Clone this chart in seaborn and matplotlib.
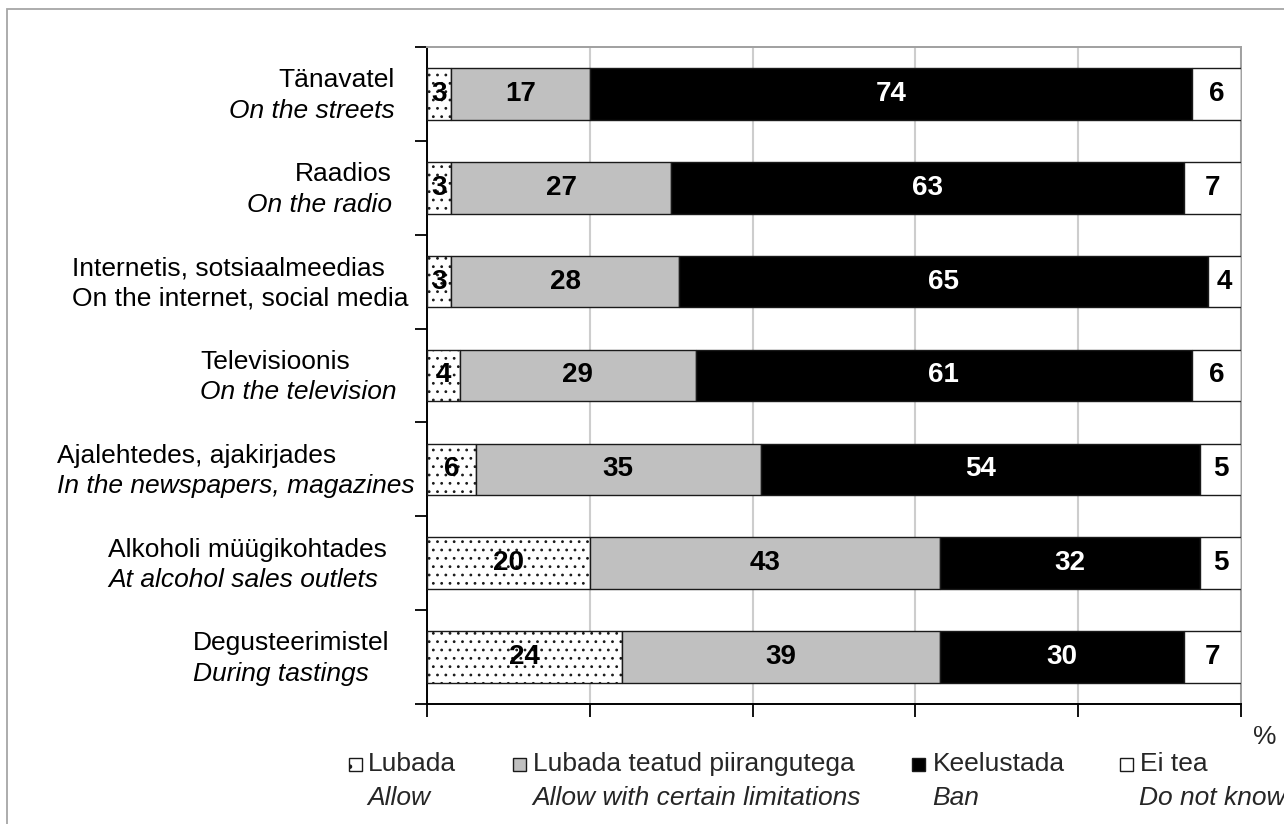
import numpy as np
import pandas as pd
import matplotlib
matplotlib.use("Agg")
import matplotlib.pyplot as plt
import matplotlib.transforms as mtransforms
from matplotlib.patches import Rectangle
import seaborn as sns

# Survey: should alcohol advertising be allowed in these places? (%)
places_et = ["Tänavatel", "Raadios", "Internetis, sotsiaalmeedias", "Televisioonis",
             "Ajalehtedes, ajakirjades", "Alkoholi müügikohtades", "Degusteerimistel"]
places_en = ["On the streets", "On the radio", "On the internet, social media",
             "On the television", "In the newspapers, magazines",
             "At alcohol sales outlets", "During tastings"]

answers_et = ["Lubada", "Lubada teatud piirangutega", "Keelustada", "Ei tea"]
answers_en = ["Allow", "Allow with certain limitations", "Ban", "Do not know"]

allow = [3, 3, 3, 4, 6, 20, 24]
allow_limited = [17, 27, 28, 29, 35, 43, 39]
ban = [74, 63, 65, 61, 54, 32, 30]
dont_know = [6, 7, 4, 6, 5, 5, 7]

series = [allow, allow_limited, ban, dont_know]

# styling
fills = ["white", "#c0c0c0", "black", "white"]
hatches = ["..", None, None, None]
value_colors = ["black", "black", "white", "black"]
en_italic = [True, True, False, True, True, True, True]
label_x_px = [395, 392, 72, 200, 57, 108, 193]
label_ha = ["right", "right", "left", "left", "left", "left", "left"]

W, H = 1284, 824
FS = 19

sns.set_theme(style="white")
plt.rcParams["font.family"] = ["Liberation Sans", "DejaVu Sans"]
plt.rcParams["hatch.linewidth"] = 0.8

fig = plt.figure(figsize=(W / 100, H / 100), dpi=100)
fig.patch.set_facecolor("white")
ax = fig.add_axes([427 / W, 1 - 704 / H, (1241 - 427) / W, (704 - 47) / H])

left = np.zeros(len(places_et))
for k, vals in enumerate(series):
    df = pd.DataFrame({"place": places_et, "pct": vals})
    sns.barplot(data=df, x="pct", y="place", orient="h", color=fills[k],
                saturation=1, width=0.55, left=left.copy(), edgecolor="#1a1a1a",
                linewidth=1.0, hatch=hatches[k], errorbar=None, ax=ax, zorder=3)
    for i, v in enumerate(vals):
        ax.text(left[i] + v / 2, i, str(v), ha="center", va="center",
                fontsize=20, fontweight="bold", color=value_colors[k], zorder=5)
    left += np.array(vals)

ax.set_xlim(0, 100)
ax.set_ylim(len(places_et) - 0.5, -0.5)
ax.set_xticks(np.arange(0, 101, 20))
ax.set_xticklabels([])
ax.set_yticks(np.arange(-0.5, len(places_et), 1.0))
ax.set_yticklabels([])
ax.set_xlabel("")
ax.set_ylabel("")
ax.tick_params(axis="both", direction="out", length=9, width=1.3, color="black")
ax.tick_params(axis="x", bottom=True)
ax.tick_params(axis="y", left=True)

ax.set_axisbelow(True)
ax.xaxis.grid(True, color="#cdcdcd", linewidth=1.5)
ax.yaxis.grid(False)

for side in ["left", "bottom"]:
    ax.spines[side].set_color("black")
    ax.spines[side].set_linewidth(1.4)
for side in ["top", "right"]:
    ax.spines[side].set_visible(True)
    ax.spines[side].set_color("#a0a0a0")
    ax.spines[side].set_linewidth(1.4)

# category labels: Estonian on top, English below
trans = mtransforms.blended_transform_factory(fig.transFigure, ax.transData)
for i in range(len(places_et)):
    x = label_x_px[i] / W
    ax.text(x, i - 0.145, places_et[i], transform=trans, ha=label_ha[i], va="center",
            fontsize=FS, color="black")
    ax.text(x, i + 0.18, places_en[i], transform=trans, ha=label_ha[i], va="center",
            fontsize=FS, color="black", style="italic" if en_italic[i] else "normal")

fig.text(1253 / W, 1 - 737 / H, "%", ha="left", va="center", fontsize=FS)

# legend
marker_px = [349, 513, 912, 1120]
text_px = [368, 533, 933, 1140]
msize = 13
for k in range(len(answers_et)):
    fig.patches.append(Rectangle((marker_px[k] / W, 1 - 771 / H), msize / W, msize / H,
                                 transform=fig.transFigure, facecolor=fills[k],
                                 edgecolor="#1a1a1a", linewidth=1.0,
                                 hatch="." if hatches[k] else None))
    fig.text(text_px[k] / W, 1 - 764 / H, answers_et[k], ha="left", va="center",
             fontsize=FS)
    fig.text((text_px[k] - 1) / W, 1 - 798 / H, answers_en[k], ha="left", va="center",
             fontsize=FS, style="italic")

# outer frame
fig.patches.append(Rectangle((7 / W, -0.05), 1.1, 1 - 9 / H + 0.05,
                             transform=fig.transFigure, fill=False,
                             edgecolor="#a6a6a6", linewidth=1.3))

fig.savefig("out.png", dpi=100, facecolor="white")
